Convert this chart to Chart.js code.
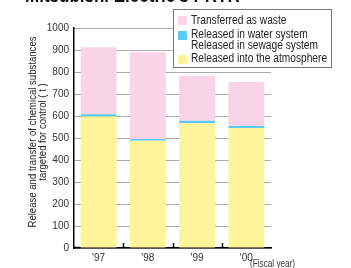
<!DOCTYPE html>
<html>
<head>
<meta charset="utf-8">
<script src="https://cdn.jsdelivr.net/npm/chart.js@4.4.1/dist/chart.umd.min.js"></script>
<style>
  html, body { margin: 0; padding: 0; background: #fff; }
  #wrap { position: relative; width: 351px; height: 268px; overflow: hidden; }
  #title { position: absolute; left: 25px; top: -16px; font: bold 20px 'Liberation Sans', sans-serif; color: #111; white-space: nowrap; transform: scaleX(0.85); transform-origin: left top; }
  #legend { position: absolute; left: 173px; top: 9px; width: 157px; height: 57px; border: 1px solid #777; background: #fff; font: 12px 'Liberation Sans', sans-serif; color: #222; }
  #legend .sw { position: absolute; left: 4px; width: 9px; height: 9px; }
  #legend .tx { position: absolute; left: 17px; line-height: 11px; white-space: nowrap; transform: scaleX(0.85); transform-origin: left top; }
  #unit { position: absolute; left: 250px; top: 258px; font: 10px 'Liberation Sans', sans-serif; color: #333; white-space: nowrap; transform: scaleX(0.82); transform-origin: left top; }
</style>
</head>
<body>
<div id="wrap">
  <canvas id="chart" width="351" height="268"></canvas>
  <div id="title">Mitsubishi Electric's PRTR</div>
  <div id="legend"></div>
  <div id="unit">(Fiscal year)</div>
</div>
<script>
// data (t)
const years = ["'97", "'98", "'99", "'00"];
const atmosphere = [598, 487, 567, 545];
const water = [10, 9, 11, 10];
const waste = [305, 394, 205, 200];
const yTicks = [0, 100, 200, 300, 400, 500, 600, 700, 800, 900, 1000];
const seriesLabels = ['Released into the atmosphere', 'Released in water system\nReleased in sewage system', 'Transferred as waste'];
const seriesColors = ['#fef59b', '#5ccbf3', '#f8d4e4'];
const yTitle = ['Release and transfer of chemical substances', 'targeted for control ( t )'];

const FONT = "'Liberation Sans', sans-serif";

// legend (top to bottom: waste, water/sewage, atmosphere)
const legend = document.getElementById('legend');
const rows = [{ i: 2, sw: 6, tx: 5 }, { i: 1, sw: 21, tx: 19 }, { i: 0, sw: 45, tx: 43 }];
rows.forEach(r => {
  const sw = document.createElement('div');
  sw.className = 'sw';
  sw.style.top = r.sw + 'px';
  sw.style.background = seriesColors[r.i];
  legend.appendChild(sw);
  const tx = document.createElement('div');
  tx.className = 'tx';
  tx.style.top = r.tx + 'px';
  tx.innerHTML = seriesLabels[r.i].split('\n').join('<br>');
  legend.appendChild(tx);
});

// small upward ticks between categories + y axis title
const extras = {
  id: 'extras',
  afterDraw(chart) {
    const ctx = chart.ctx;
    const x = chart.scales.x;
    const y = chart.scales.y;
    const base = y.getPixelForValue(0);
    ctx.save();
    ctx.strokeStyle = '#000';
    ctx.lineWidth = 1.5;
    ctx.beginPath();
    for (let i = 1; i < years.length; i++) {
      const px = Math.round((x.getPixelForValue(i - 1) + x.getPixelForValue(i)) / 2) + 0.5;
      ctx.moveTo(px, base);
      ctx.lineTo(px, base - 5);
    }
    ctx.moveTo(chart.chartArea.left, base - 0.5);
    ctx.lineTo(chart.chartArea.left + 6, base - 0.5);
    ctx.stroke();

    ctx.fillStyle = '#222';
    ctx.font = '11px ' + FONT;
    ctx.textAlign = 'center';
    ctx.textBaseline = 'middle';
    ctx.translate(33, 132);
    ctx.rotate(-Math.PI / 2);
    ctx.scale(0.87, 1);
    yTitle.forEach((t, k) => ctx.fillText(t, 0, k * 10));
    ctx.restore();
  }
};

new Chart(document.getElementById('chart'), {
  type: 'bar',
  data: {
    labels: years,
    datasets: [
      { label: seriesLabels[0], data: atmosphere, backgroundColor: seriesColors[0] },
      { label: seriesLabels[1], data: water, backgroundColor: seriesColors[1] },
      { label: seriesLabels[2], data: waste, backgroundColor: seriesColors[2] }
    ]
  },
  options: {
    responsive: false,
    animation: false,
    layout: { padding: { left: 0, right: 80, top: 28, bottom: 0 } },
    datasets: { bar: { categoryPercentage: 1, barPercentage: 0.73, borderWidth: 0 } },
    plugins: { legend: { display: false }, tooltip: { enabled: false } },
    scales: {
      x: {
        stacked: true,
        afterFit: s => { s.height = 20; },
        grid: { display: false, drawTicks: false },
        border: { color: '#000', width: 1.5 },
        ticks: { color: '#333', font: { family: FONT, size: 10 }, padding: 4 }
      },
      y: {
        stacked: true,
        min: 0,
        max: 1000,
        afterFit: s => { s.width = 74; },
        afterBuildTicks: s => { s.ticks = yTicks.map(v => ({ value: v })); },
        grid: { color: '#aaa', lineWidth: 1, drawTicks: false },
        border: { color: '#000', width: 1.5 },
        ticks: { color: '#333', font: { family: FONT, size: 10 }, padding: 5, callback: v => String(v) }
      }
    }
  },
  plugins: [extras]
});
</script>
</body>
</html>
